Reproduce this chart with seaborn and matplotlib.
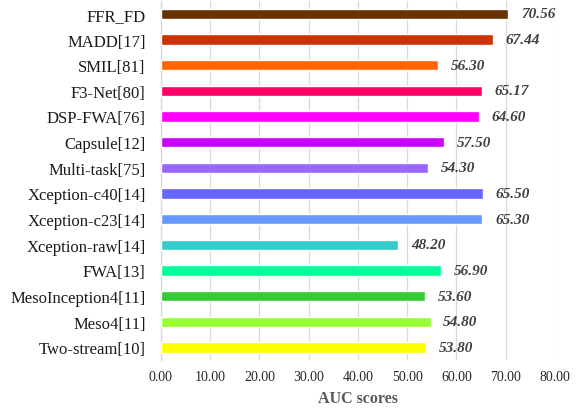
import matplotlib
matplotlib.use("Agg")
import matplotlib.pyplot as plt
import seaborn as sns
import pandas as pd

methods = ["FFR_FD", "MADD[17]", "SMIL[81]", "F3-Net[80]", "DSP-FWA[76]", "Capsule[12]",
           "Multi-task[75]", "Xception-c40[14]", "Xception-c23[14]", "Xception-raw[14]",
           "FWA[13]", "MesoInception4[11]", "Meso4[11]", "Two-stream[10]"]
auc = [70.56, 67.44, 56.30, 65.17, 64.60, 57.50, 54.30, 65.50, 65.30, 48.20,
       56.90, 53.60, 54.80, 53.80]
colors = ["#663300", "#CC3300", "#FF6600", "#FF0066", "#FF00FF", "#CC00FF", "#9966FF",
          "#6666FF", "#6699FF", "#33CCCC", "#00FF99", "#33CC33", "#99FF33", "#FFFF00"]
xticks = [0, 10, 20, 30, 40, 50, 60, 70, 80]

sns.set_style("white")
plt.rcParams["font.family"] = ["Liberation Serif", "DejaVu Serif"]

df = pd.DataFrame({"method": methods, "auc": auc})

fig = plt.figure(figsize=(5.78, 4.10), dpi=100)
ax = fig.add_axes([0.2785, 0.119, 0.6815, 0.876])

sns.barplot(data=df, x="auc", y="method", hue="method", palette=colors,
            saturation=1, legend=False, width=0.4, ax=ax, zorder=3)

for patch, v in zip(ax.patches, auc):
    y = patch.get_y() + patch.get_height() / 2
    ax.annotate(f"{v:.2f}", xy=(v, y), xytext=(9, 0), textcoords="offset points",
                ha="left", va="center", fontsize=11, fontweight="bold",
                fontstyle="italic", color="#404040")

ax.set_xlim(0, 80)
ax.set_xticks(xticks)
ax.set_xticklabels([f"{t:.2f}" for t in xticks], fontsize=10, color="#262626")
ax.tick_params(axis="x", length=0, pad=7)
ax.tick_params(axis="y", length=0, pad=11, labelsize=12, labelcolor="#1a1a1a")
ax.set_ylabel("")
ax.set_xlabel("AUC scores", fontsize=11.5, fontweight="bold", color="#595959", labelpad=5)

ax.grid(axis="x", color="#d9d9d9", linewidth=0.9, zorder=0)
ax.set_axisbelow(True)
for side in ["top", "right", "bottom"]:
    ax.spines[side].set_visible(False)
ax.spines["left"].set_color("#d9d9d9")
ax.spines["left"].set_linewidth(1.0)

fig.savefig("out.png", dpi=100)
